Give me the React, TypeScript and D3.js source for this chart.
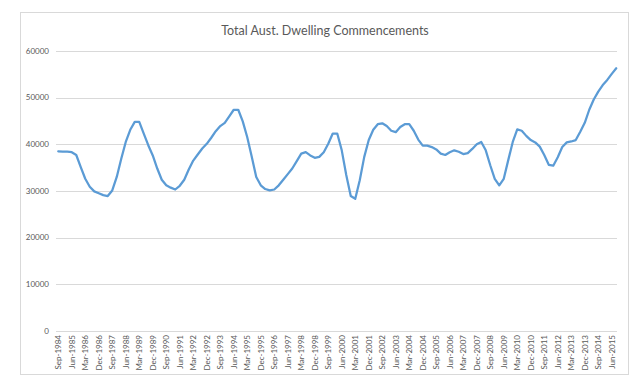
import React from "react";
import * as d3 from "d3";

// quarterly dwelling commencements, Sep-1984 .. Sep-2015
const values: number[] = [
  38500, 38400, 38400, 38300, 37700, 35100, 32600, 30900, 29900, 29500,
  29100, 28900, 30100, 33000, 36900, 40500, 43100, 44800, 44800, 42300,
  39800, 37600, 34800, 32400, 31200, 30700, 30300, 31100, 32400, 34600,
  36500, 37800, 39100, 40100, 41400, 42800, 43900, 44600, 46000, 47400,
  47400, 44900, 41500, 37300, 33000, 31200, 30400, 30100, 30300, 31200,
  32400, 33600, 34800, 36400, 38000, 38300, 37600, 37100, 37300, 38300,
  40100, 42300, 42300, 38700, 33400, 28900, 28300, 32300, 37300, 40900,
  43100, 44300, 44500, 43900, 42900, 42600, 43700, 44300, 44300, 42900,
  41000, 39700, 39700, 39400, 38900, 38000, 37700, 38300, 38700, 38400,
  37900, 38100, 39000, 40000, 40500, 38700, 35500, 32600, 31200, 32600,
  36600, 40500, 43200, 42900, 41800, 40900, 40400, 39500, 37700, 35600,
  35400, 37200, 39400, 40400, 40600, 40900, 42700, 44600, 47400, 49600,
  51300, 52700, 53800, 55100, 56300,
];

const months = ["Mar", "Jun", "Sep", "Dec"];
const firstYear = 1984;
const firstQuarter = 2; // Sep
const quarters: string[] = values.map((_, i) => {
  const q = firstQuarter + i;
  return `${months[q % 4]}-${firstYear + Math.floor(q / 4)}`;
});
const labelEvery = 3;
const yTicks = [0, 10000, 20000, 30000, 40000, 50000, 60000];
const title = "Total Aust. Dwelling Commencements";

const W = 644;
const H = 387;
const plot = { left: 56, right: 618.5, top: 51, bottom: 330.8 };

export default function App() {
  const x = d3
    .scalePoint<string>()
    .domain(quarters)
    .range([plot.left, plot.right])
    .padding(0.5);
  const y = d3.scaleLinear().domain([0, 60000]).range([plot.bottom, plot.top]);

  const line = d3
    .line<number>()
    .x((_, i) => x(quarters[i]) as number)
    .y((d) => y(d));

  const font = "Lato, 'Open Sans', sans-serif";

  return (
    <svg
      width={W}
      height={H}
      style={{ position: "absolute", left: 0, top: 0, background: "#fff" }}
    >
      <rect
        x={20.5}
        y={12.5}
        width={608}
        height={362}
        fill="#fff"
        stroke="#d9d9d9"
        strokeWidth={1}
      />
      <text
        x={325}
        y={35}
        textAnchor="middle"
        fontFamily={font}
        fontSize={12.5}
        fill="#595959"
      >
        {title}
      </text>
      {yTicks.map((t) => (
        <g key={t}>
          <line
            x1={plot.left}
            x2={617}
            y1={Math.round(y(t)) + 0.5}
            y2={Math.round(y(t)) + 0.5}
            stroke="#d9d9d9"
            strokeWidth={1}
          />
          <text
            x={49}
            y={y(t)}
            dy="0.35em"
            textAnchor="end"
            fontFamily={font}
            fontSize={8}
            fill="#595959"
          >
            {t}
          </text>
        </g>
      ))}
      {quarters
        .filter((_, i) => i % labelEvery === 0)
        .map((q) => (
          <text
            key={q}
            transform={`translate(${(x(q) as number) + 3},335) rotate(-90)`}
            textAnchor="end"
            fontFamily={font}
            fontSize={8}
            fill="#595959"
          >
            {q}
          </text>
        ))}
      <path
        d={line(values) ?? ""}
        fill="none"
        stroke="#5b9bd5"
        strokeWidth={2.25}
        strokeLinejoin="round"
        strokeLinecap="round"
      />
    </svg>
  );
}
